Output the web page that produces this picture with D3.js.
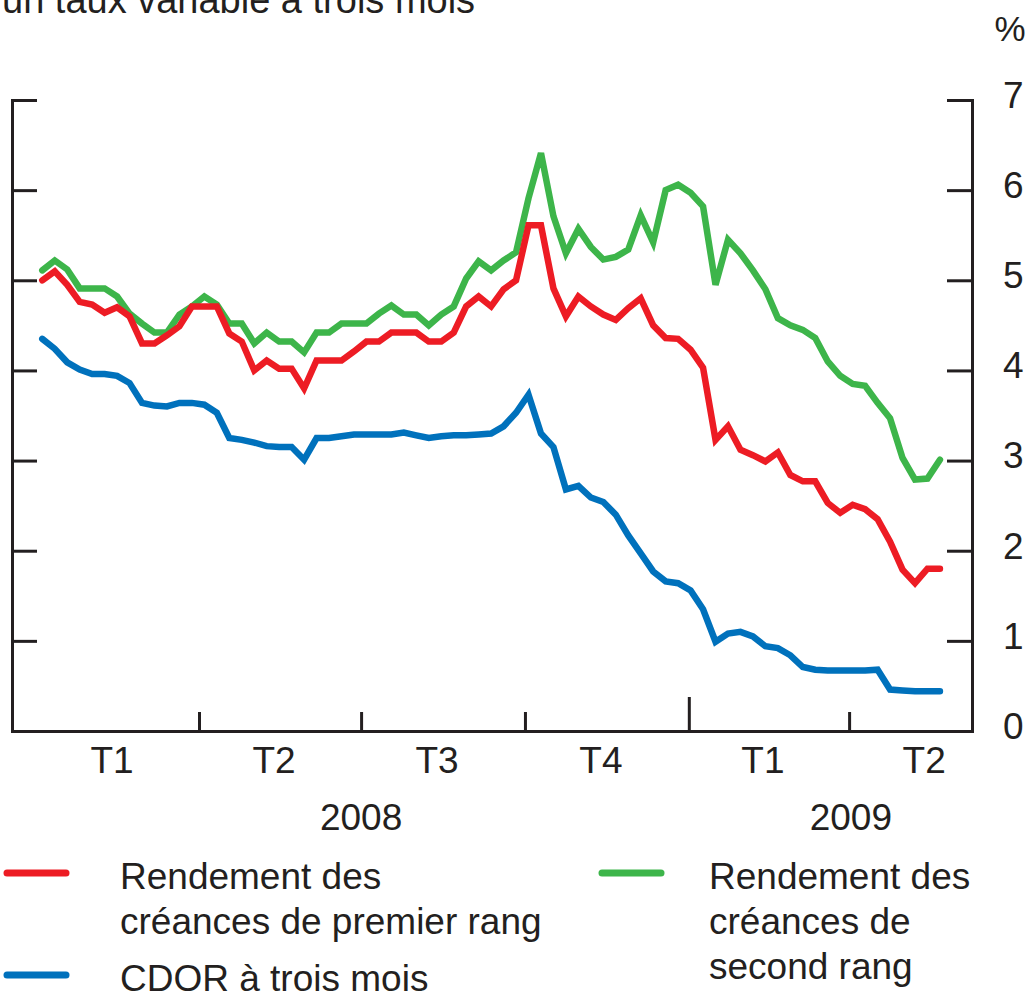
<!DOCTYPE html>
<html>
<head>
<meta charset="utf-8">
<script src="https://cdn.jsdelivr.net/npm/d3@7"></script>
<style>
  html, body { margin: 0; padding: 0; background: #fff; }
  svg text { font-family: "Liberation Sans", Arial, Helvetica, sans-serif; fill: #231f20; }
</style>
</head>
<body>
<div id="chart"></div>
<script>
// weekly observations, first one on Friday 4 January 2008
const firstWeek = "2008-01-04"
const weekCount = 73

const premierRang = [5.00, 5.10, 4.95, 4.76, 4.73, 4.64, 4.70, 4.60, 4.30, 4.30,
  4.39, 4.49, 4.71, 4.71, 4.71, 4.41, 4.32, 4.00, 4.11, 4.02,
  4.02, 3.80, 4.11, 4.11, 4.11, 4.21, 4.32, 4.32, 4.42, 4.42,
  4.42, 4.32, 4.32, 4.42, 4.71, 4.82, 4.71, 4.90, 5.00, 5.61,
  5.61, 4.91, 4.60, 4.82, 4.71, 4.62, 4.56, 4.69, 4.80, 4.50,
  4.36, 4.35, 4.23, 4.03, 3.23, 3.38, 3.12, 3.06, 2.99, 3.09,
  2.84, 2.77, 2.77, 2.53, 2.42, 2.51, 2.46, 2.35, 2.10, 1.79,
  1.64, 1.80, 1.80]

const secondRang = [5.11, 5.22, 5.12, 4.91, 4.91, 4.91, 4.82, 4.63, 4.52, 4.42,
  4.42, 4.62, 4.71, 4.82, 4.73, 4.52, 4.52, 4.30, 4.42, 4.32,
  4.32, 4.20, 4.42, 4.42, 4.52, 4.52, 4.52, 4.63, 4.72, 4.62,
  4.62, 4.50, 4.62, 4.71, 5.02, 5.21, 5.11, 5.22, 5.31, 5.91,
  6.41, 5.71, 5.30, 5.57, 5.37, 5.23, 5.26, 5.34, 5.72, 5.42,
  6.00, 6.06, 5.97, 5.82, 4.95, 5.45, 5.30, 5.11, 4.90, 4.58,
  4.50, 4.45, 4.36, 4.10, 3.94, 3.85, 3.83, 3.64, 3.47, 3.03,
  2.79, 2.80, 3.01]

const cdor = [4.35, 4.24, 4.09, 4.01, 3.96, 3.96, 3.94, 3.86, 3.64, 3.61,
  3.60, 3.64, 3.64, 3.62, 3.53, 3.25, 3.23, 3.20, 3.16, 3.15,
  3.15, 3.01, 3.25, 3.25, 3.27, 3.29, 3.29, 3.29, 3.29, 3.31,
  3.28, 3.25, 3.27, 3.28, 3.28, 3.29, 3.30, 3.38, 3.53, 3.73,
  3.30, 3.15, 2.68, 2.72, 2.59, 2.54, 2.40, 2.17, 1.97, 1.77,
  1.66, 1.64, 1.56, 1.35, 0.99, 1.08, 1.10, 1.05, 0.94, 0.92,
  0.84, 0.71, 0.68, 0.67, 0.67, 0.67, 0.67, 0.68, 0.46, 0.45,
  0.44, 0.44, 0.44]

const quarterTicks = ["2008-04-01", "2008-07-01", "2008-10-01", "2009-01-01", "2009-04-01"]
const yearBreak = "2009-01-01"
const quarterLabels = ["T1", "T2", "T3", "T4", "T1", "T2"]
const quarterStarts = ["2008-01-01", "2008-04-01", "2008-07-01", "2008-10-01", "2009-01-01", "2009-04-01"]
const yearLabels = ["2008", "2009"]
const yearCenters = ["2008-07-01", "2009-04-02"]
const yTicks = [0, 1, 2, 3, 4, 5, 6, 7]

const seriesList = [
  {name: "cdor", values: cdor, color: "#0071bc"},
  {name: "second", values: secondRang, color: "#3db54a"},
  {name: "premier", values: premierRang, color: "#ed1c24"}
]

const parse = d3.utcParse("%Y-%m-%d")
const start = parse(firstWeek)
const dates = d3.range(weekCount).map(i => d3.utcDay.offset(start, 7 * i))

const width = 1032
const height = 994
const plot = {left: 12, right: 972, top: 100, bottom: 731}
const ink = "#231f20"
const fontSize = "37px"

const svg = d3.select("#chart").append("svg")
  .attr("width", width)
  .attr("height", height)

const x = d3.scaleUtc()
  .domain([parse("2007-12-18"), parse("2009-06-09")])
  .range([plot.left, plot.right])

const y = d3.scaleLinear()
  .domain([0, 7])
  .range([plot.bottom, plot.top])

// title fragment cut at the top, as in the original
svg.append("text")
  .attr("x", 2)
  .attr("y", 13)
  .style("font-size", "38px")
  .text("un taux variable à trois mois")

svg.append("text")
  .attr("x", 1010)
  .attr("y", 41)
  .attr("text-anchor", "middle")
  .style("font-size", "35px")
  .text("%")

// left axis, ticks pointing inward
svg.append("g")
  .attr("transform", `translate(${plot.left},0)`)
  .call(d3.axisLeft(y).tickValues(yTicks).tickSizeInner(-25).tickSizeOuter(0).tickFormat(""))

// right axis, ticks inward, labels outside
const rightAxis = svg.append("g")
  .attr("transform", `translate(${plot.right},0)`)
  .call(d3.axisRight(y).tickValues(yTicks).tickSizeInner(-25).tickSizeOuter(0)
    .tickPadding(31).tickFormat(d3.format("d")))

rightAxis.selectAll("text")
  .attr("dy", "0.2em")
  .attr("text-anchor", "start")
  .style("font-size", fontSize)
  .style("font-family", "'Liberation Sans', Arial, sans-serif")
  .attr("fill", ink)

// bottom axis with quarter ticks
const bottomAxis = svg.append("g")
  .attr("transform", `translate(0,${plot.bottom})`)
  .call(d3.axisBottom(x).tickValues(quarterTicks.map(parse)).tickSizeInner(-19).tickSizeOuter(0).tickFormat(""))

bottomAxis.selectAll(".tick line")
  .filter(d => +d === +parse(yearBreak))
  .attr("y2", -34)

svg.selectAll(".domain, .tick line")
  .attr("stroke", ink)
  .attr("stroke-width", 3)

svg.selectAll(".domain").attr("stroke-linecap", "square")

// quarter labels
const qEnds = quarterStarts.slice(1).map(parse).concat([parse("2009-07-01")])
svg.append("g").selectAll("text")
  .data(quarterLabels)
  .enter().append("text")
  .attr("x", (d, i) => (x(parse(quarterStarts[i])) + x(qEnds[i])) / 2 - 6)
  .attr("y", 773)
  .attr("text-anchor", "middle")
  .style("font-size", fontSize)
  .text(d => d)

svg.append("g").selectAll("text")
  .data(yearLabels)
  .enter().append("text")
  .attr("x", (d, i) => x(parse(yearCenters[i])))
  .attr("y", 830)
  .attr("text-anchor", "middle")
  .style("font-size", fontSize)
  .text(d => d)

// lines
const line = d3.line()
  .x((d, i) => x(dates[i]))
  .y(d => y(d))

svg.append("g").selectAll("path")
  .data(seriesList)
  .enter().append("path")
  .attr("d", d => line(d.values))
  .attr("fill", "none")
  .attr("stroke", d => d.color)
  .attr("stroke-width", 6.5)
  .attr("stroke-linejoin", "miter")
  .attr("stroke-linecap", "round")

// legend
const legendItems = [
  {color: "#ed1c24", x: 7, textX: 120, y: 873, lines: ["Rendement des", "créances de premier rang"]},
  {color: "#0071bc", x: 7, textX: 120, y: 975, lines: ["CDOR à trois mois"]},
  {color: "#3db54a", x: 602, textX: 709, y: 873, lines: ["Rendement des", "créances de", "second rang"]}
]

const legend = svg.append("g").selectAll("g")
  .data(legendItems)
  .enter().append("g")

legend.append("line")
  .attr("x1", d => d.x)
  .attr("x2", d => d.x + 59)
  .attr("y1", d => d.y)
  .attr("y2", d => d.y)
  .attr("stroke", d => d.color)
  .attr("stroke-width", 7)
  .attr("stroke-linecap", "round")

legend.each(function(d) {
  const t = d3.select(this).append("text")
    .style("font-size", fontSize)
  t.selectAll("tspan")
    .data(d.lines)
    .enter().append("tspan")
    .attr("x", d.textX)
    .attr("y", (s, i) => d.y + 16 + i * 45)
    .text(s => s)
})
</script>
</body>
</html>
